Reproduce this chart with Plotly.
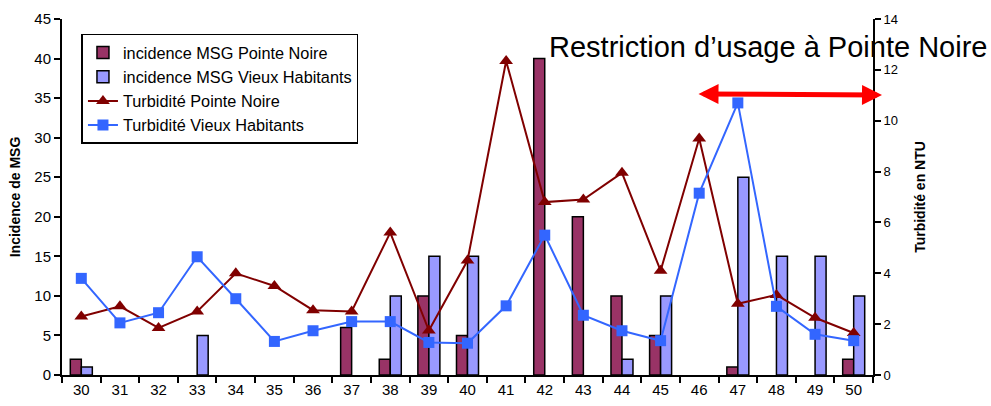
import plotly.graph_objects as go

weeks = [str(w) for w in range(30, 51)]

# None = no bar drawn for that week
inc_pn = [2, None, None, None, None, None, None, 6, 2, 10, 5, None, 40, 20, 10, 5, None, 1, None, None, 2]
inc_vh = [1, None, None, 5, None, None, None, None, 10, 15, 15, None, None, None, 2, 10, None, 25, 15, 15, 10]

turb_pn = [2.3, 2.7, 1.85, 2.5, 4.0, 3.5, 2.55, 2.5, 5.6, 1.75, 4.5, 12.35,
           6.8, 6.9, 7.95, 4.1, 9.3, 2.8, 3.15, 2.25, 1.65]
turb_vh = [3.8, 2.05, 2.45, 4.65, 3.0, 1.32, 1.74, 2.1, 2.1, 1.28, 1.25, 2.72,
           5.5, 2.35, 1.74, 1.35, 7.15, 10.7, 2.7, 1.6, 1.35]

FONT = "Liberation Sans, Arial, sans-serif"

fig = go.Figure()
fig.add_trace(go.Bar(
    x=weeks, y=inc_pn, name="incidence MSG Pointe Noire",
    marker=dict(color="#993366", line=dict(color="black", width=1.5)),
))
fig.add_trace(go.Bar(
    x=weeks, y=inc_vh, name="incidence MSG Vieux Habitants",
    marker=dict(color="#9999FF", line=dict(color="black", width=1.5)),
))
fig.add_trace(go.Scatter(
    x=weeks, y=turb_pn, name="Turbidité Pointe Noire", yaxis="y2",
    mode="lines+markers",
    line=dict(color="#800000", width=2),
    marker=dict(symbol="triangle-up", size=12, color="#800000"),
))
fig.add_trace(go.Scatter(
    x=weeks, y=turb_vh, name="Turbidité Vieux Habitants", yaxis="y2",
    mode="lines+markers",
    line=dict(color="#3366FF", width=2),
    marker=dict(symbol="square", size=11, color="#3366FF"),
))

fig.update_layout(
    width=991, height=406,
    margin=dict(l=62, r=118, t=19, b=31, autoexpand=False),
    plot_bgcolor="white", paper_bgcolor="white",
    font=dict(family=FONT, color="black", size=15),
    barmode="group", bargap=0.43, bargroupgap=0,
    showlegend=True,
    legend=dict(
        x=0.024, y=0.958, xanchor="left", yanchor="top",
        bgcolor="white", bordercolor="black", borderwidth=1.5,
        font=dict(size=16.3, family=FONT), tracegroupgap=0,
    ),
    xaxis=dict(
        type="category", tickson="boundaries", range=[-0.5, 20.5],
        showline=True, linecolor="black", linewidth=2,
        ticks="outside", ticklen=6, tickwidth=1.5, tickcolor="black",
        showgrid=False, zeroline=False, automargin=False,
        tickfont=dict(size=15),
    ),
    yaxis=dict(
        range=[0, 45], dtick=5, automargin=False,
        showline=True, linecolor="black", linewidth=2,
        ticks="outside", ticklen=6, tickwidth=1.5, tickcolor="black",
        showgrid=False, zeroline=False,
        tickfont=dict(size=15),
        title=dict(text="<b>Incidence de MSG</b>", font=dict(size=14), standoff=10),
    ),
    yaxis2=dict(
        overlaying="y", side="right", range=[0, 14], dtick=2, automargin=False,
        showline=True, linecolor="black", linewidth=2,
        ticks="outside", ticklen=6, tickwidth=1.5, tickcolor="black",
        showgrid=False, zeroline=False,
        tickfont=dict(size=13),
        title=dict(text="<b>Turbidité en NTU</b>", font=dict(size=14), standoff=18),
    ),
)

fig.add_annotation(
    xref="paper", yref="paper", x=(989 - 62) / 811, y=0.921,
    xanchor="right", yanchor="middle", showarrow=False,
    text="Restriction d’usage à Pointe Noire",
    font=dict(size=29, family=FONT, color="black"),
)

fig.add_annotation(
    xref="paper", yref="paper", x=(882 - 62) / 811, y=(375 - 95) / 356,
    axref="pixel", ayref="pixel", ax=-185, ay=-1,
    text="", showarrow=True, arrowside="end+start",
    arrowhead=2, arrowwidth=5, arrowsize=0.8, arrowcolor="#FF0000",
    standoff=0, startstandoff=0,
)

fig.write_html(
    "out.html",
    config={"displayModeBar": False},
    post_script="document.body.style.margin='0';document.body.style.overflow='hidden';",
)
